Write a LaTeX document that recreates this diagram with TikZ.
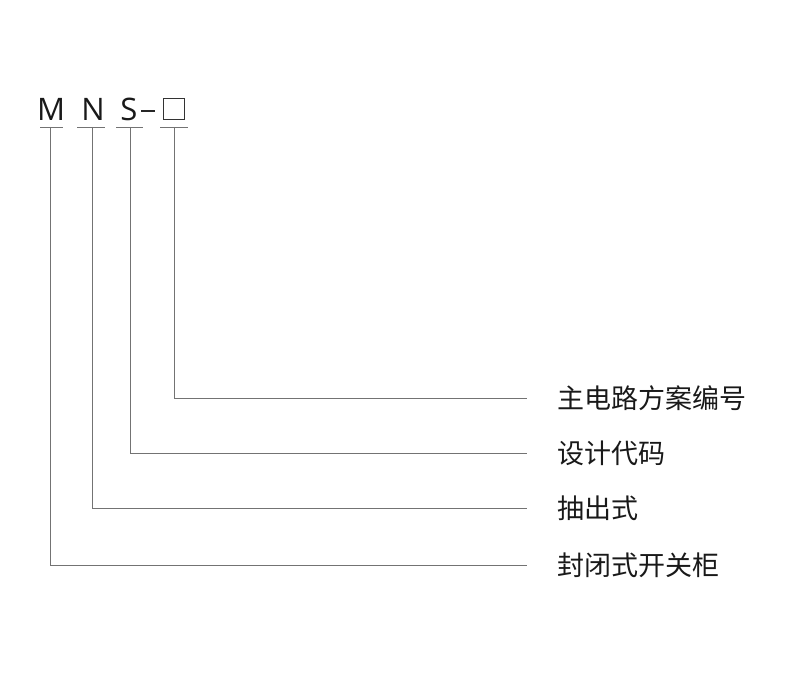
\documentclass[tikz,border=0pt]{standalone}
\usepackage{fontspec}
\setmainfont{Open Sans}
\newfontfamily\cjk{Noto Sans CJK SC}
\begin{document}
\begin{tikzpicture}[x=1pt,y=-1pt,
  ln/.style={draw=black!55,line width=0.8pt},
  lett/.style={font=\fontsize{31}{31}\selectfont,anchor=base,inner sep=0pt,text=black!90},
  lab/.style={font=\cjk\fontsize{27}{27}\selectfont,anchor=west,inner sep=0pt,text=black!90}]
\useasboundingbox (0,0) rectangle (800,700);
\node[lett] (m) at (51,121) {M};
\node[lett] (n) at (93,121) {N};
\node[lett] (s) at (129,121) {S};
\coordinate (d1) at (141,111);
\coordinate (d2) at (155,111);
\draw[black!85,line width=1.6pt] (d1) -- (d2);
\node[draw=black!80,line width=1pt,minimum width=21pt,minimum height=21pt,inner sep=0pt] (b) at (174,109) {};
\foreach \a/\b/\c/\y/\t/\nm in {40/63/50/565/封闭式开关柜/l1, 77/105/92/508/抽出式/l2, 116/143/130/453/设计代码/l3, 160/188/174/398/主电路方案编号/l4}{
  \draw[ln] (\a,127) -- (\b,127);
  \coordinate (c\nm) at (\c,127);
  \coordinate (e\nm) at (527,\y);
  \node[lab] (\nm) at (557,\y) {\t};
  \draw[ln] (c\nm) |- (e\nm);
}
\end{tikzpicture}
\end{document}
